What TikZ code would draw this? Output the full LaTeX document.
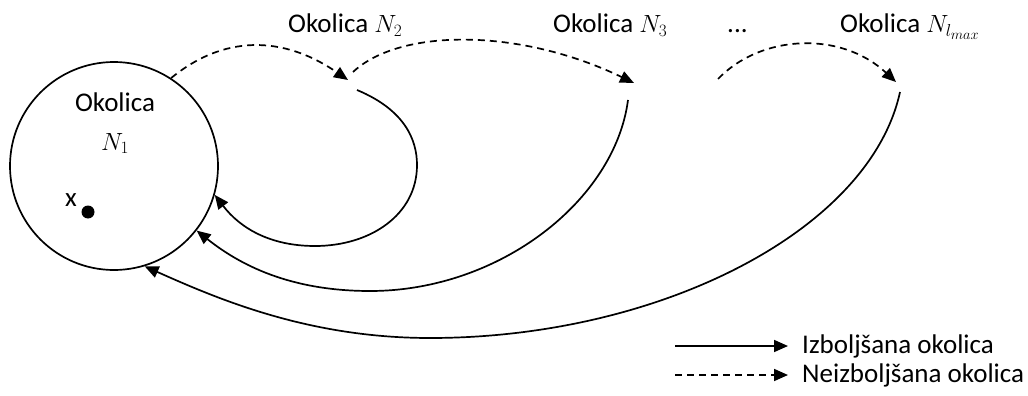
\documentclass[tikz,border=0pt]{standalone}
\usepackage{fontspec}
\setmainfont{Carlito}
\usepackage{tikz}
\usetikzlibrary{arrows.meta}
\usetikzlibrary{positioning}
\tikzset{
  izb/.style={line width=1.7pt,-{Triangle[length=14pt,width=12pt]}},
  neizb/.style={izb,dash pattern=on 7pt off 5pt},
  lbl/.style={font=\fontsize{27}{32}\selectfont,inner sep=0pt},
}

\begin{document}
\begin{tikzpicture}[x=1pt,y=-1pt]
\useasboundingbox (0,0) rectangle (1028,396);

% okolica N_1
\node[circle,draw,line width=1.7pt,minimum size=208pt,inner sep=0pt] (n1) at (114,166) {};
\node[lbl,anchor=base] (okn1) at (115,111) {Okolica};
\node[lbl,anchor=base] (nn1) at (115,150) {$N_1$};
\node[lbl,anchor=base] (xlbl) at (71,206) {x};
\node[circle,fill,minimum size=13pt,inner sep=0pt] (xdot) at (88,212) {};

% ostale okolice
\node[lbl,anchor=base west] (okn2) at (288,33) {Okolica $N_2$};
\node[lbl,anchor=base west] (okn3) at (553,33) {Okolica $N_3$};
\node[lbl,anchor=base west] (dots) at (727,33) {...};
\node[lbl,anchor=base west] (oknl) at (840,33) {Okolica $N_{l_{max}}$};

\coordinate (e2) at (348,80);
\coordinate (s2) at (353,72);
\coordinate (e3) at (634,83);
\coordinate (s3) at (718,79);
\coordinate (e4) at (896,82);

\coordinate (b2) at (357,90);
\coordinate (b3) at (628,100);
\coordinate (b4) at (900,92);

% neizboljsana
\draw[neizb] (n1.57) .. controls (230,30) and (290,40) .. (e2);
\draw[neizb] (s2) .. controls (400,28) and (520,28) .. (e3);
\draw[neizb] (s3) .. controls (760,35) and (840,30) .. (e4);

% izboljsana
\draw[izb] (b2) .. controls (405,110) and (417,140) .. (417,165)
  .. controls (417,215) and (370,246) .. (315,246)
  .. controls (270,246) and (240,228) .. (n1.-16);
\draw[izb] (b3) .. controls (615,200) and (500,291) .. (370,291)
  .. controls (290,291) and (240,265) .. (n1.-38);
\draw[izb] (b4) .. controls (870,230) and (660,338) .. (430,338)
  .. controls (310,338) and (220,300) .. (n1.-73);

% legenda
\node[lbl,anchor=base west] (lizb) at (802,353) {Izboljšana okolica};
\node[lbl,anchor=base west] (lneizb) at (802,382) {Neizboljšana okolica};
\coordinate (lizbs) at (675,346);
\coordinate (lneizbs) at (675,375);
\draw[izb] (lizbs) -- ([xshift=-14pt]lizb.west |- lizbs);
\draw[neizb] (lneizbs) -- ([xshift=-14pt]lneizb.west |- lneizbs);
\end{tikzpicture}
\end{document}
